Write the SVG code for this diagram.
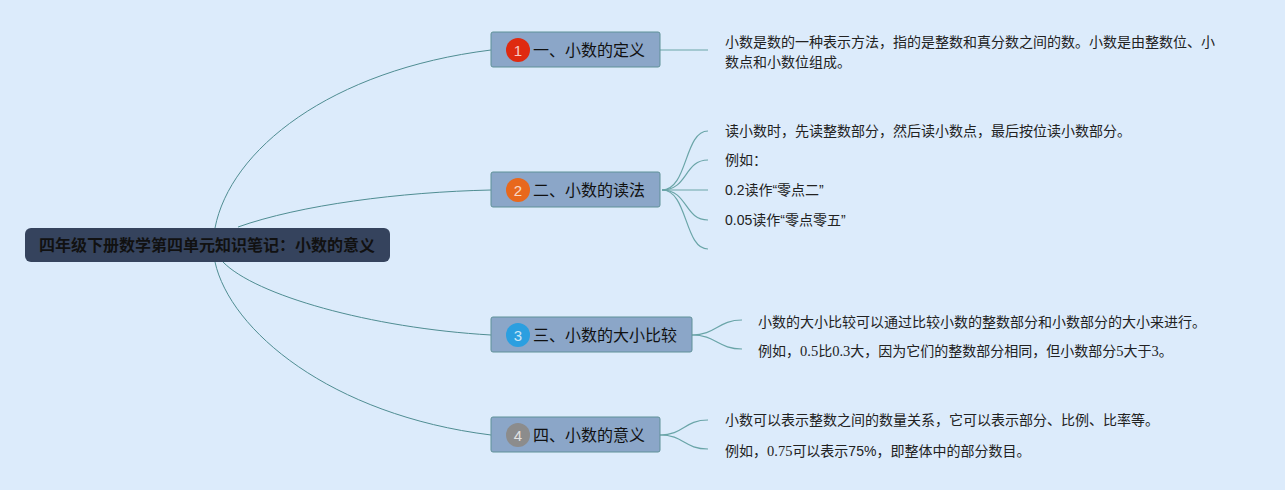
<svg xmlns="http://www.w3.org/2000/svg" width="1285" height="490" viewBox="0 0 1285 490">
<style>
.bg{fill:#dcebfb}
.root{fill:#35435d}
.roottxt{font-family:"Liberation Sans","Noto Sans CJK SC",sans-serif;font-size:16px;font-weight:bold;fill:#111;text-anchor:middle}
.node{fill:#8ba6c8;stroke:#5f9198;stroke-width:1}
.ntxt{font-family:"Liberation Sans","Noto Sans CJK SC",sans-serif;font-size:16px;fill:#111}
.num{font-family:"Liberation Sans","Noto Sans CJK SC",sans-serif;font-size:15px;fill:#fff;text-anchor:middle;opacity:0.75}
.leaf{font-family:"Liberation Sans","Noto Sans CJK SC",sans-serif;font-size:14px;fill:#222}
.serif{font-family:"Liberation Serif","Noto Sans CJK SC",serif;font-size:14.5px}
.c1{fill:none;stroke:#4f8d92;stroke-width:1}
.c2{fill:none;stroke:#6aa5a8;stroke-width:1.2}
</style>
<rect class="bg" x="0" y="0" width="1285" height="490"/>
<g id="connectors">
<path class="c1" d="M215,228 C230,150 330,70 491,50"/>
<path class="c1" d="M238,227 C300,205 400,192 491,190"/>
<path class="c1" d="M223,262 C255,295 370,328 491,335"/>
<path class="c1" d="M215,262 C230,330 330,415 491,435"/>
<path class="c2" d="M660,50 L708,50"/>
<path class="c2" d="M662,190 C688,190 684,131 708,131"/>
<path class="c2" d="M662,190 C688,190 684,160 708,160"/>
<path class="c2" d="M662,190 L708,190"/>
<path class="c2" d="M662,190 C688,190 684,220 708,220"/>
<path class="c2" d="M662,190 C688,190 684,249 708,249"/>
<path class="c2" d="M692,335 C716,335 718,320 742,320"/>
<path class="c2" d="M692,335 C716,335 718,349 742,349"/>
<path class="c2" d="M660,435 C684,435 684,420 708,420"/>
<path class="c2" d="M660,435 C684,435 684,449 708,449"/>
</g>
<g id="root">
<rect class="root" x="25" y="228" width="365" height="34" rx="6"/>
<text class="roottxt" x="207" y="251">四年级下册数学第四单元知识笔记：小数的意义</text>
</g>
<g id="node1">
<rect class="node" x="491" y="32" width="169" height="35" rx="2"/>
<circle cx="518" cy="50" r="12" fill="#df2a10"/>
<text class="num" x="518" y="55.5">1</text>
<text class="ntxt" x="533" y="56">一、小数的定义</text>
</g>
<g id="node2">
<rect class="node" x="491" y="172" width="169" height="35" rx="2"/>
<circle cx="518" cy="190" r="12" fill="#e8681c"/>
<text class="num" x="518" y="195.5">2</text>
<text class="ntxt" x="533" y="196">二、小数的读法</text>
</g>
<g id="node3">
<rect class="node" x="491" y="317" width="201" height="35" rx="2"/>
<circle cx="518" cy="335" r="12" fill="#2b9fe0"/>
<text class="num" x="518" y="340.5">3</text>
<text class="ntxt" x="533" y="341">三、小数的大小比较</text>
</g>
<g id="node4">
<rect class="node" x="491" y="417" width="169" height="35" rx="2"/>
<circle cx="518" cy="435" r="12" fill="#8c8c8c"/>
<text class="num" x="518" y="440.5">4</text>
<text class="ntxt" x="533" y="441">四、小数的意义</text>
</g>
<g id="leaf1">
<text class="leaf" x="725" y="47">小数是数的一种表示方法，指的是整数和真分数之间的数。小数是由整数位、小</text>
<text class="leaf" x="725" y="67">数点和小数位组成。</text>
</g>
<g id="leaf2a"><text class="leaf" x="725" y="136">读小数时，先读整数部分，然后读小数点，最后按位读小数部分。</text></g>
<g id="leaf2b"><text class="leaf" x="725" y="165">例如：</text></g>
<g id="leaf2c"><text class="leaf" x="725" y="195">0.2读作“零点二”</text></g>
<g id="leaf2d"><text class="leaf" x="725" y="225">0.05读作“零点零五”</text></g>
<g id="leaf3a"><text class="leaf" x="758" y="327">小数的大小比较可以通过比较小数的整数部分和小数部分的大小来进行。</text></g>
<g id="leaf3b"><text class="leaf" x="758" y="356">例如，<tspan class="serif">0.5</tspan>比<tspan class="serif">0.3</tspan>大，因为它们的整数部分相同，但小数部分<tspan class="serif">5</tspan>大于<tspan class="serif">3</tspan>。</text></g>
<g id="leaf4a"><text class="leaf" x="725" y="425">小数可以表示整数之间的数量关系，它可以表示部分、比例、比率等。</text></g>
<g id="leaf4b"><text class="leaf" x="725" y="456">例如，<tspan class="serif">0.75</tspan>可以表示75%，即整体中的部分数目。</text></g>
</svg>
